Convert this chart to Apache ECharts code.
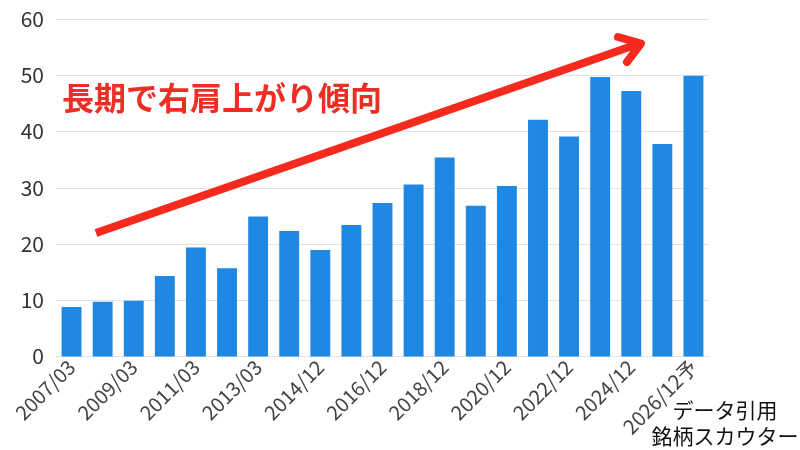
<!DOCTYPE html>
<html>
<head>
<meta charset="utf-8">
<script src="https://cdn.jsdelivr.net/npm/echarts@6/dist/echarts.min.js"></script>
<style>html,body{margin:0;padding:0;background:#fff}#c{width:800px;height:450px}</style>
</head>
<body>
<div id="c"></div>
<script>
const categories = ["2007/03","2008/03","2009/03","2010/03","2011/03","2012/03","2013/03","2013/12","2014/12","2015/12","2016/12","2017/12","2018/12","2019/12","2020/12","2021/12","2022/12","2023/12","2024/12","2025/12予","2026/12予"];
const values = [8.8,9.75,9.9,14.3,19.4,15.7,24.9,22.3,18.95,23.4,27.3,30.6,35.4,26.8,30.3,42.1,39.1,49.7,47.2,37.8,49.9];
const yTicks = [0,10,20,30,40,50,60];
const annotationText = "長期で右肩上がり傾向";
const sourceText = "データ引用\n銘柄スカウター";

const FONT = "'Noto Sans CJK JP','Noto Sans',sans-serif";
const chart = echarts.init(document.getElementById('c'));
chart.setOption({
  animation: false,
  textStyle: { fontFamily: FONT },
  grid: { left: 56, right: 91, top: 19, bottom: 93.5, containLabel: false },
  xAxis: {
    type: 'category',
    data: categories,
    axisLine: { show: true, lineStyle: { color: '#e3e3e3', width: 1 } },
    axisTick: { show: false },
    axisLabel: { interval: 1, rotate: 45, fontSize: 20, color: '#444', margin: 7, fontFamily: FONT }
  },
  yAxis: {
    type: 'value',
    min: yTicks[0], max: yTicks[yTicks.length - 1], interval: 10,
    axisLine: { show: false }, axisTick: { show: false },
    splitLine: { lineStyle: { color: '#e3e3e3', width: 1 } },
    axisLabel: { fontSize: 21, color: '#333', margin: 12, fontFamily: FONT }
  },
  series: [{
    type: 'bar',
    data: values,
    barCategoryGap: '36%',
    itemStyle: { color: '#1f88e3' }
  }],
  graphic: [
    { type: 'line', shape: { x1: 96, y1: 233, x2: 638, y2: 44 }, style: { stroke: '#f42a1f', lineWidth: 8, lineCap: 'butt' }, z: 100 },
    { type: 'polyline', shape: { points: [[618, 37], [641, 43.5], [627, 62]] }, style: { stroke: '#f42a1f', fill: null, lineWidth: 8, lineCap: 'round', lineJoin: 'round' }, z: 100 },
    { type: 'text', left: 62, top: 82, style: { text: annotationText, fontSize: 32, fontWeight: 'bold', fill: '#ee2d24', fontFamily: FONT }, z: 100 },
    { type: 'text', x: 725, y: 397, style: { text: sourceText, fontSize: 21, lineHeight: 26, fill: '#111', align: 'center', verticalAlign: 'top', fontFamily: FONT }, z: 100 }
  ]
});
</script>
</body>
</html>
